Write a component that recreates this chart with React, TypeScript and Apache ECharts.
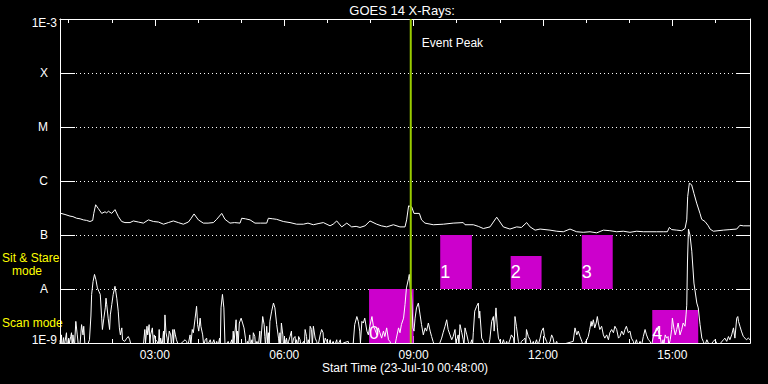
import { useEffect, useRef } from 'react';
import * as echarts from 'echarts';

const FONT = '"Liberation Sans", Arial, sans-serif';

// x values: minutes since 00:00 on 23-Jul-10 (start 00:48)
const timeMin = 48;
const timeMax = 1008;
const majorTicks = [180, 360, 540, 720, 900];
const minorTicks = [60, 120, 180, 240, 300, 360, 420, 480, 540, 600, 660, 720, 780, 840, 900, 960];
const yTickLabels = ['1E-9', 'A', 'B', 'C', 'M', 'X', '1E-3'];

const eventPeakTime = 536;

// observation windows
const rectStart = [478, 577, 675, 774, 872];
const rectEnd = [540, 621, 718, 817, 936];
const rectLow = [1e-9, 1e-8, 1e-8, 1e-8, 1e-9];
const rectHigh = [1e-8, 1e-7, 4.1e-8, 1e-7, 4.1e-9];
const rectLabelLevel = [1.53e-9, 2.1e-8, 2.1e-8, 2.1e-8, 1.53e-9];
const rectLabels = ['0', '1', '2', '3', '4'];

// [minute, log10 flux W/m^2] — 1-8 Angstrom channel
const longChannel: [number, number][] = [
  [49.4, -6.6], [55, -6.62], [61.9, -6.65], [66, -6.66], [71.2, -6.69], [76, -6.7], [80.5, -6.72], [85, -6.73],
  [89.7, -6.75], [93.5, -6.73], [95, -6.6], [97.6, -6.44], [101.3, -6.51], [106, -6.6], [110.6, -6.57], [113, -6.59],
  [115.3, -6.56], [120, -6.6], [124.5, -6.53], [129.2, -6.66], [133.8, -6.75], [138.4, -6.77], [145.4, -6.77],
  [150, -6.74], [157, -6.76], [164, -6.78], [171, -6.72], [178, -6.75], [185, -6.76], [192, -6.8], [198.7, -6.77],
  [205.7, -6.74], [212.6, -6.77], [219.6, -6.8], [226.6, -6.76], [230, -6.7], [234.5, -6.61], [240.5, -6.72],
  [247.4, -6.78], [254, -6.78], [261.4, -6.77], [266, -6.71], [273, -6.6], [277.6, -6.71], [284.5, -6.78],
  [291, -6.77], [298.5, -6.78], [300.8, -6.69], [306, -6.7], [312.4, -6.72], [319.3, -6.78], [327, -6.78],
  [335.6, -6.78], [337.9, -6.69], [344, -6.7], [349.5, -6.71], [358.7, -6.75], [368, -6.77], [377.3, -6.8],
  [386.6, -6.8], [393, -6.78], [400.5, -6.81], [407, -6.79], [414.4, -6.77], [423.7, -6.83], [428, -6.8],
  [433, -6.74], [440, -6.85], [447, -6.78], [453.8, -6.85], [460, -6.84], [465.4, -6.86], [472.4, -6.83],
  [479.3, -6.74], [488.6, -6.8], [495, -6.83], [502.5, -6.85], [511.8, -6.81], [521, -6.85], [528, -6.85],
  [530.3, -6.72], [533, -6.46], [537.3, -6.48], [540.5, -6.6], [548, -6.6], [551, -6.72], [555.8, -6.78],
  [567.4, -6.81], [581.3, -6.8], [595, -6.78], [609, -6.77], [611.5, -6.81], [623, -6.81], [630, -6.84],
  [637, -6.88], [646.3, -6.85], [655.6, -6.67], [664.8, -6.85], [674, -6.89], [683.4, -6.85], [690, -6.86],
  [697.3, -6.77], [702, -6.85], [709, -6.91], [716, -6.89], [729.7, -6.91], [739, -6.93], [748.3, -6.94],
  [757.6, -6.89], [766.8, -6.94], [776, -6.95], [785.4, -6.94], [794.7, -6.96], [804, -6.91], [813, -6.92],
  [822.5, -6.94], [831.8, -6.93], [841, -6.95], [850.3, -6.93], [859.6, -6.94], [868.9, -6.94], [878, -6.94],
  [887.4, -6.94], [893, -6.94], [895.8, -6.86], [899, -6.9], [906, -6.91], [913, -6.92], [917.6, -6.88],
  [920, -6.72], [921.3, -6.29], [923.6, -6.04], [926.8, -6.07], [930, -6.23], [933.8, -6.41], [938.4, -6.6],
  [940.8, -6.71], [945.4, -6.75], [950, -6.83], [952.4, -6.89], [957, -6.93], [970.9, -6.91], [980, -6.9],
  [989.5, -6.89], [994, -6.82], [998.7, -6.83], [1008, -6.83],
];

// [minute, log10 flux W/m^2] — 0.5-4 Angstrom channel
const shortChannel: [number, number][] = [
  [48, -8.95], [49, -9.1], [50, -8.85], [51, -9.1], [53, -8.9], [54, -9.1], [55, -8.97], [57, -8.81], [58, -9.1],
  [60, -8.91], [61, -9.0], [63, -8.88], [64, -8.81], [65, -9.1], [66, -8.85], [68, -9.1], [70, -8.6], [72, -8.85],
  [74, -9.1], [76, -9.0], [78, -8.66], [80, -8.85], [81, -8.69], [83, -9.1], [86, -9.05], [89, -8.94], [91, -8.5],
  [92, -8.1], [94, -7.86], [96, -7.73], [98, -7.83], [100, -7.98], [102, -8.04], [104, -8.1], [106, -8.54],
  [107, -8.75], [109, -8.54], [111, -8.35], [112, -8.17], [113, -8.29], [115, -8.54], [117, -8.75], [118, -8.48],
  [120, -8.29], [122, -8.1], [124.5, -7.95], [127, -8.17], [129, -8.41], [130.6, -8.72], [132, -8.85], [134, -8.72],
  [135, -8.94], [138, -8.97], [141, -8.91], [143, -8.88], [145, -8.94], [148, -9.1], [164, -9.05], [166, -8.75],
  [167, -9.0], [169, -8.69], [170, -8.85], [172, -8.66], [173, -9.05], [174, -8.85], [176.5, -8.72], [178, -9.05],
  [179, -8.85], [181, -8.94], [183, -8.97], [185, -9.05], [186, -8.75], [187, -9.05], [188, -8.91], [190, -9.05],
  [192, -8.78], [193, -9.05], [194, -8.48], [195.5, -8.81], [197, -8.91], [198, -9.05], [200, -8.78], [202, -8.85],
  [203, -9.05], [205, -8.75], [206, -9.0], [207, -8.75], [208.5, -8.85], [210, -8.94], [213, -9.05], [222, -8.94],
  [224, -8.97], [226, -9.05], [229, -8.85], [230, -9.05], [232, -8.75], [233.5, -8.81], [236, -8.54], [238, -8.32],
  [239.5, -8.66], [241, -8.78], [243, -8.54], [244, -8.69], [246.5, -8.85], [248, -9.05], [250, -8.94], [252, -8.91],
  [253, -9.05], [257, -8.94], [259, -9.05], [262, -8.94], [264, -9.05], [266, -8.97], [268, -9.05], [270, -8.91],
  [271, -9.05], [272, -8.35], [274, -8.1], [276, -8.35], [277.6, -9.05], [282, -8.97], [284, -9.05], [287, -8.94],
  [288, -9.05], [289, -8.78], [290, -9.0], [293, -8.57], [294, -9.0], [295, -8.78], [296, -9.0], [297.5, -8.63],
  [300, -8.54], [302, -8.63], [304, -8.72], [306, -8.91], [307, -9.05], [309, -8.97], [310, -9.05], [312, -8.85],
  [313, -9.05], [315, -8.94], [316, -9.05], [317, -8.81], [319, -8.88], [320, -9.05], [322, -8.97], [324, -9.05],
  [326, -8.78], [327, -9.05], [330, -8.51], [332, -8.66], [333, -8.88], [334, -9.05], [335.6, -8.69], [337, -9.0],
  [338, -8.81], [339, -9.05], [340, -8.6], [342.5, -8.41], [345, -8.26], [347, -8.35], [349.5, -8.66], [352, -8.91],
  [353, -9.05], [354, -8.81], [355, -9.05], [356, -8.63], [358, -8.85], [359, -9.05], [361, -8.94], [362, -9.05],
  [363, -8.91], [365, -9.05], [366, -8.97], [368, -8.88], [370, -8.78], [371, -9.05], [373, -8.91], [375, -8.88],
  [376, -9.05], [377, -8.94], [379, -9.05], [380, -8.88], [382, -8.94], [383, -9.05], [387, -8.97], [388, -9.05],
  [389, -8.75], [391, -8.88], [392, -9.05], [393.5, -8.94], [395, -9.05], [396, -8.69], [398, -8.75], [399, -9.05],
  [400.5, -8.69], [403, -8.91], [405, -8.97], [407, -9.05], [410, -8.85], [412, -8.75], [414, -8.81], [415, -9.05],
  [417, -8.91], [419, -8.97], [421, -9.05], [424, -8.94], [425, -9.05], [428, -8.97], [430, -9.05], [433, -8.94],
  [434, -9.05], [438, -8.94], [439, -9.05], [442, -9.0], [449, -8.97], [450, -9.05], [456, -9.0], [458, -8.66],
  [461, -8.51], [463, -8.6], [465, -8.78], [466, -9.0], [468, -8.6], [470, -8.63], [472, -8.54], [475, -8.78],
  [477, -8.85], [479, -8.69], [482, -8.51], [484, -8.69], [486, -8.75], [489, -8.85], [491, -8.72], [493, -8.81],
  [495.5, -8.91], [498, -8.78], [500, -8.88], [502.5, -8.72], [505, -8.94], [507, -8.97], [509, -9.05], [512, -9.0],
  [514, -9.05], [516, -8.91], [519, -8.72], [521, -8.81], [523, -8.66], [526, -8.54], [528, -8.29], [530, -7.98],
  [533, -7.8], [534, -7.73], [535.5, -8.0], [537, -8.1], [539, -8.72], [540.5, -8.78], [542, -8.54], [544, -8.35],
  [546.6, -8.26], [549, -8.48], [551, -8.66], [553.5, -8.85], [556, -8.72], [558, -8.78], [560.5, -8.63],
  [563, -8.78], [565, -8.88], [567, -8.97], [569, -9.05], [572, -9.0], [575, -9.05], [579, -8.91], [581, -8.81],
  [583.7, -8.69], [586, -8.57], [588, -8.75], [590.6, -8.85], [593, -8.94], [595, -8.88], [597.6, -8.75],
  [599, -9.05], [600, -8.94], [602, -8.85], [603, -9.05], [604.5, -8.66], [607, -8.81], [609, -8.94], [610, -9.05],
  [611.5, -8.72], [614, -8.85], [616, -8.97], [618, -9.05], [621, -8.94], [622, -9.05], [623, -8.81], [625, -8.41],
  [627.7, -8.32], [630, -8.26], [631, -8.54], [632, -8.41], [634.7, -8.91], [637, -8.97], [639, -9.05], [641.6, -9.0],
  [644, -9.05], [646, -8.94], [648.6, -8.6], [651, -8.51], [652, -8.78], [654.6, -8.35], [656.5, -8.72], [658, -8.91],
  [660, -8.97], [662, -9.05], [665, -8.94], [667, -9.05], [669.5, -8.97], [671, -9.05], [674, -8.94], [676, -8.85],
  [679, -8.91], [680, -9.05], [681, -8.51], [683, -8.69], [685.7, -8.97], [688, -9.05], [690, -8.97], [692.7, -8.94],
  [695, -8.91], [696, -9.05], [697, -8.75], [699.6, -8.88], [702, -8.94], [704, -9.05], [706.5, -8.97], [708, -9.05],
  [711, -8.94], [713, -9.05], [716, -8.91], [718, -8.78], [720.5, -8.72], [722, -8.88], [725, -8.97], [727, -9.05],
  [730, -8.97], [732, -8.85], [734, -8.91], [736, -9.05], [739, -8.97], [741, -9.05], [762, -8.97], [764.5, -8.72],
  [767, -8.85], [769, -8.78], [771.5, -8.88], [774, -8.97], [776, -9.05], [781, -8.94], [783, -8.88], [785, -8.75],
  [787, -8.6], [788, -8.69], [790, -8.57], [792, -8.72], [794, -8.63], [795.6, -8.51], [797, -8.63], [799, -8.75],
  [801.6, -8.69], [804, -8.85], [806, -8.91], [808.6, -8.85], [811, -8.94], [813, -8.81], [815.5, -8.75],
  [818, -8.81], [820, -8.69], [822.5, -8.75], [825, -8.91], [827, -8.88], [829.5, -8.78], [832, -8.85],
  [834, -8.75], [836, -8.69], [838.7, -8.81], [841, -8.78], [843, -8.91], [845.7, -8.97], [847, -9.05],
  [850, -8.94], [852, -9.05], [855, -8.97], [857, -9.05], [859.6, -8.88], [862, -8.75], [864, -8.85],
  [866.6, -8.94], [869, -8.97], [871, -9.05], [873.5, -8.88], [876, -8.81], [878, -8.72], [880.5, -8.78],
  [883, -8.88], [885, -9.05], [887, -8.94], [888, -9.05], [890, -8.85], [892, -8.91], [894, -8.88], [895, -9.05],
  [897, -8.94], [899, -8.75], [900, -8.54], [902, -8.72], [904, -8.85], [906, -8.75], [908, -8.63], [910.6, -8.85],
  [913, -8.75], [915, -8.63], [917.6, -8.69], [919, -8.48], [920, -8.3], [921, -7.5], [922.4, -6.89], [924.5, -7.0],
  [927, -7.3], [930, -7.89], [934, -8.26], [936, -8.35], [938.5, -8.66], [941, -8.91], [943, -8.97], [945, -9.05],
  [948, -8.94], [950, -9.0], [952, -9.05], [957, -8.97], [959, -8.94], [961.6, -9.0], [964, -9.05], [971, -8.94],
  [973, -8.91], [975.6, -8.97], [978, -8.88], [980, -8.94], [982.5, -8.85], [985, -8.72], [987, -8.91],
  [989.5, -8.54], [991, -8.51], [992, -8.6], [994, -8.69], [996, -8.78], [998.7, -8.88], [1001, -8.91],
  [1003, -8.94], [1005.7, -8.91], [1008, -8.94],
];

const pad2 = (n: number) => String(n).padStart(2, '0');
const clock = (m: number) => `${pad2(Math.floor(m / 60))}:${pad2(Math.round(m % 60))}`;

export default function App() {
  const ref = useRef<HTMLDivElement>(null);
  useEffect(() => {
    if (!ref.current) return;
    const chart = echarts.init(ref.current, undefined, { renderer: 'svg' });

    const xAxisDef = (position: string, ticks: number[], len: number, showLabel: boolean) => ({
      type: 'value',
      position,
      min: timeMin,
      max: timeMax,
      axisLine: { show: true, lineStyle: { color: '#fff', width: 1 } },
      axisTick: { show: true, inside: true, length: len, customValues: ticks, lineStyle: { color: '#fff', width: 1 } },
      axisLabel: {
        show: showLabel,
        customValues: majorTicks,
        formatter: (v: number) => clock(v),
        color: '#fff',
        fontFamily: FONT,
        fontSize: 12,
        margin: 6,
      },
      splitLine: { show: false },
    });

    const rectData = rectStart.map((s, i) => [s, rectEnd[i], rectLow[i], rectHigh[i], rectLabelLevel[i], i]);

    const modeText = (text: string, x: number, y: number) => ({
      type: 'text',
      x,
      y,
      style: {
        text,
        fill: '#ffff00',
        fontFamily: FONT,
        fontSize: 12,
        lineHeight: 11,
        align: 'left',
        verticalAlign: 'middle',
      },
    });

    const option: any = {
      animation: false,
      backgroundColor: '#000',
      grid: { left: 60, right: 18, top: 19, bottom: 41 },
      xAxis: [
        xAxisDef('bottom', majorTicks, 7, true),
        xAxisDef('bottom', minorTicks, 4, false),
        xAxisDef('top', majorTicks, 7, false),
        xAxisDef('top', minorTicks, 4, false),
      ],
      yAxis: [
        {
          type: 'log',
          logBase: 10,
          min: 1e-9,
          max: 1e-3,
          splitNumber: 6,
          position: 'left',
          axisLine: { show: true, lineStyle: { color: '#fff', width: 1 } },
          axisTick: { show: true, inside: true, length: 15, lineStyle: { color: '#fff', width: 1 } },
          minorTick: { show: false },
          axisLabel: {
            margin: 3,
            color: '#fff',
            fontFamily: FONT,
            fontSize: 12,
            formatter: (v: number) => {
              const idx = Math.round(Math.log10(v)) + 9;
              const t = yTickLabels[idx] ?? '';
              if (idx === 0) return `{b|${t}}`;
              if (idx === 6) return `{t|${t}}`;
              return `{l|${t}}`;
            },
            rich: {
              b: { color: '#fff', fontFamily: FONT, fontSize: 12, padding: [0, 0, 6, 0] },
              t: { color: '#fff', fontFamily: FONT, fontSize: 12, padding: [8, 0, 0, 0] },
              l: { color: '#fff', fontFamily: FONT, fontSize: 12, padding: [0, 9, 0, 0] },
            },
          },
          splitLine: { show: true, lineStyle: { color: '#fff', width: 1, type: [1, 3] } },
        },
        {
          type: 'log',
          logBase: 10,
          min: 1e-9,
          max: 1e-3,
          splitNumber: 6,
          position: 'right',
          axisLine: { show: true, lineStyle: { color: '#fff', width: 1 } },
          axisTick: { show: true, inside: true, length: 14, lineStyle: { color: '#fff', width: 1 } },
          axisLabel: { show: false },
          splitLine: { show: false },
        },
      ],
      series: [
        {
          type: 'custom',
          name: 'windows',
          xAxisIndex: 0,
          yAxisIndex: 0,
          z: 1,
          encode: { x: [0, 1], y: [2, 3] },
          data: rectData,
          renderItem: (_p: any, api: any) => {
            const tl = api.coord([api.value(0), api.value(3)]);
            const br = api.coord([api.value(1), api.value(2)]);
            const ly = api.coord([api.value(0), api.value(4)])[1];
            const idx = api.value(5);
            return {
              type: 'group',
              children: [
                {
                  type: 'rect',
                  shape: { x: tl[0], y: tl[1], width: br[0] - tl[0], height: br[1] - tl[1] },
                  style: { fill: '#cc00cc' },
                },
                {
                  type: 'text',
                  z2: 50,
                  style: {
                    text: rectLabels[idx],
                    x: tl[0],
                    y: ly,
                    verticalAlign: 'middle',
                    align: 'left',
                    fill: '#fff',
                    fontFamily: FONT,
                    fontSize: 18,
                  },
                },
              ],
            };
          },
        },
        {
          type: 'line',
          name: 'long',
          xAxisIndex: 0,
          yAxisIndex: 0,
          z: 3,
          showSymbol: false,
          symbol: 'none',
          clip: true,
          lineStyle: { color: '#fff', width: 1 },
          data: longChannel.map(([t, l]) => [t, Math.pow(10, l)]),
        },
        {
          type: 'line',
          name: 'short',
          xAxisIndex: 0,
          yAxisIndex: 0,
          z: 3,
          showSymbol: false,
          symbol: 'none',
          clip: true,
          lineStyle: { color: '#fff', width: 1 },
          data: shortChannel.map(([t, l]) => [t, Math.pow(10, l)]),
        },
        {
          type: 'custom',
          name: 'event',
          xAxisIndex: 0,
          yAxisIndex: 0,
          z: 5,
          encode: { x: 0, y: [1, 2] },
          data: [[eventPeakTime, 1e-3, 1e-9]],
          renderItem: (_p: any, api: any) => {
            const top = api.coord([api.value(0), api.value(1)]);
            const bot = api.coord([api.value(0), api.value(2)]);
            return {
              type: 'group',
              children: [
                {
                  type: 'line',
                  shape: { x1: top[0], y1: top[1], x2: bot[0], y2: bot[1] },
                  style: { stroke: '#99cc00', lineWidth: 2 },
                },
                {
                  type: 'text',
                  style: {
                    text: 'Event Peak',
                    x: top[0] + 11,
                    y: top[1] + 24,
                    verticalAlign: 'middle',
                    fill: '#fff',
                    fontFamily: FONT,
                    fontSize: 12,
                  },
                },
              ],
            };
          },
        },
      ],
      graphic: [
        {
          type: 'text',
          x: 402,
          y: 10,
          style: { text: 'GOES 14 X-Rays:', fill: '#fff', fontFamily: FONT, fontSize: 13, align: 'center', verticalAlign: 'middle' },
        },
        {
          type: 'text',
          x: 405,
          y: 368,
          style: { text: 'Start Time (23-Jul-10 00:48:00)', fill: '#fff', fontFamily: FONT, fontSize: 12, align: 'center', verticalAlign: 'middle' },
        },
        modeText('Sit & Stare', 2, 258),
        modeText('mode', 12, 271),
        modeText('Scan mode', 2, 323),
      ],
    };
    chart.setOption(option);
    return () => chart.dispose();
  }, []);
  return (
    <div
      ref={ref}
      style={{ position: 'fixed', left: 0, top: 0, width: 768, height: 384, background: '#000' }}
    />
  );
}
